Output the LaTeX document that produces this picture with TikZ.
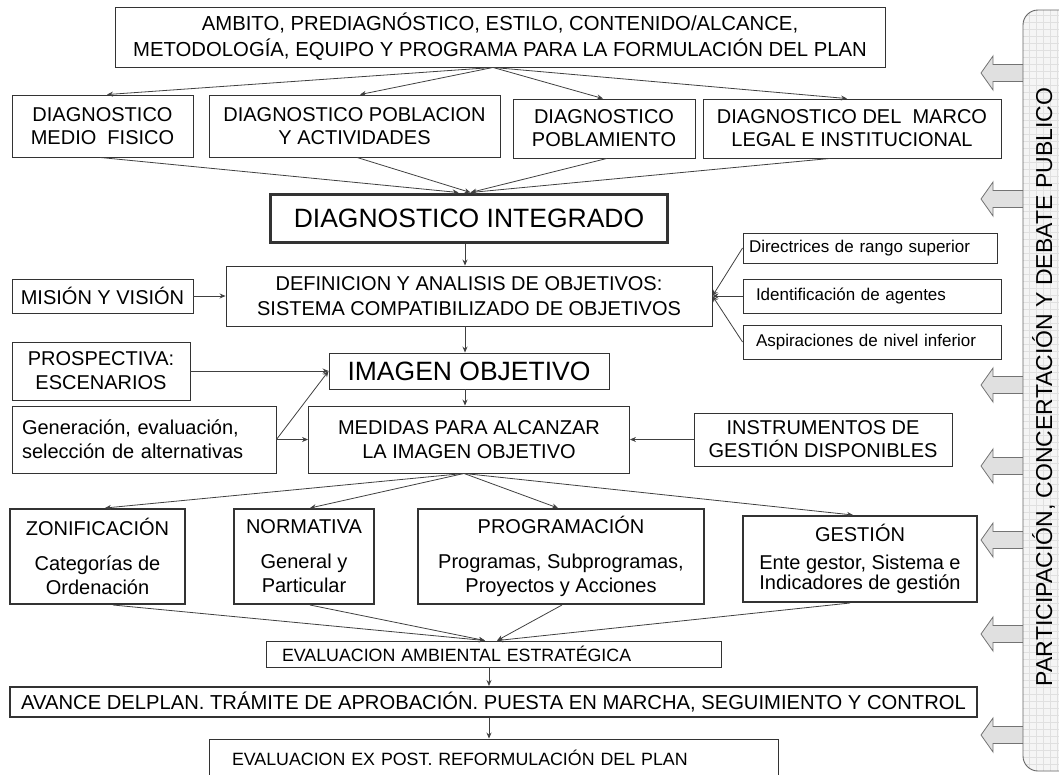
\documentclass[tikz,border=0pt]{standalone}
\usepackage{fontspec}
\setmainfont{Liberation Sans}
\usetikzlibrary{arrows.meta,calc}
\newcommand\fs[2]{\fontsize{#1}{#2}\selectfont}
\newcommand\parrowat[1]{\draw[parr] (1023,#1-8.5) -- (993,#1-8.5) -- (993,#1-17) -- (981,#1) -- (993,#1+17) -- (993,#1+8.5) -- (1023,#1+8.5);}
\begin{document}
\begin{tikzpicture}[x=1pt,y=-1pt,
 box/.style={draw=black!80, line width=0.9pt, fill=white, inner sep=0pt, align=center, text=black},
 heavybox/.style={box, line width=2pt},
 lbox/.style={box, align=left},
 arr/.style={draw=black!75, line width=0.8pt, -{Stealth[length=6pt,width=5pt]}},
 parr/.style={draw=black!55, fill=black!12, line width=0.8pt, line join=miter}]
\useasboundingbox (0,0) rectangle (1059,774);

% top
\node[box, minimum width=770, minimum height=60, font=\fs{20.3}{26}] (top) at (500,37)
 {AMBITO, PREDIAGNÓSTICO, ESTILO, CONTENIDO/ALCANCE,\\METODOLOGÍA, EQUIPO Y PROGRAMA PARA LA FORMULACIÓN DEL PLAN};
% row 2
\node[box, minimum width=181, minimum height=62, font=\fs{20}{23}] (b1) at (102.5,126) {DIAGNOSTICO\\MEDIO\ \ FISICO};
\node[box, minimum width=291, minimum height=62, font=\fs{20}{23}] (b2) at (354.5,126) {DIAGNOSTICO POBLACION\\Y ACTIVIDADES};
\node[box, minimum width=182, minimum height=59, font=\fs{20}{23}] (b3) at (604,128.5) {DIAGNOSTICO\\POBLAMIENTO};
\node[box, minimum width=298, minimum height=59, font=\fs{20}{23}] (b4) at (852,128.5) {DIAGNOSTICO DEL\ \ MARCO\\LEGAL E INSTITUCIONAL};
% integrated
\node[box, line width=3pt, minimum width=397, minimum height=48, font=\fs{26.5}{28}] (di) at (469,218) {DIAGNOSTICO INTEGRADO};
\node[box, minimum width=486, minimum height=60, font=\fs{20}{25}] (def) at (469,296) {DEFINICION Y ANALISIS DE OBJETIVOS:\\SISTEMA COMPATIBILIZADO DE OBJETIVOS};
\node[box, minimum width=181, minimum height=34, font=\fs{20}{23}] (mis) at (102.5,296) {MISIÓN Y VISIÓN};
\node[lbox, minimum height=30, inner xsep=6pt, text width=242pt, font=\fs{17}{19}] (dir) at (870,248) {Directrices de rango superior};
\node[lbox, minimum height=34, inner xsep=13pt, text width=232pt, font=\fs{17}{19}] (ide) at (872,296) {Identificación de agentes};
\node[lbox, minimum height=34, inner xsep=13pt, text width=232pt, font=\fs{17}{19}] (asp) at (872,342) {Aspiraciones de nivel inferior};
% imagen
\node[box, minimum width=178, minimum height=58, font=\fs{20}{24}] (pros) at (101,371) {PROSPECTIVA:\\ESCENARIOS};
\node[box, minimum width=280, minimum height=36, font=\fs{26.5}{28}] (img) at (469,371) {IMAGEN OBJETIVO};
\node[lbox, minimum height=67, inner xsep=10pt, text width=244pt, font=\fs{20}{24}] (gen) at (144,439.5) {Generación, evaluación,\\selección de alternativas};
\node[box, minimum width=321, minimum height=67, font=\fs{20}{24}] (med) at (469,439.5) {MEDIDAS PARA ALCANZAR\\LA IMAGEN OBJETIVO};
\node[box, minimum width=258, minimum height=53, font=\fs{20}{23}] (ins) at (823,439.5) {INSTRUMENTOS DE\\GESTIÓN DISPONIBLES};
% row 4
\node[heavybox, minimum width=175, minimum height=95, font=\fs{20}{24}] (zon) at (97.5,556.5) {ZONIFICACIÓN\\[11pt]Categorías de\\Ordenación};
\node[heavybox, minimum width=140, minimum height=95, font=\fs{20}{24}] (nor) at (304,556.5) {NORMATIVA\\[11pt]General y\\Particular};
\node[heavybox, minimum width=286, minimum height=95, font=\fs{20}{24}] (pro) at (561,556.5) {PROGRAMACIÓN\\[11pt]Programas, Subprogramas,\\Proyectos y Acciones};
\node[heavybox, minimum width=234, minimum height=86, font=\fs{20}{20.5}] (ges) at (860,559) {GESTIÓN\\[7.5pt]Ente gestor, Sistema e\\Indicadores de gestión};
% bottom
\node[lbox, minimum height=26, inner xsep=16pt, text width=423pt, font=\fs{17.8}{19}] (eae) at (493.5,654) {EVALUACION AMBIENTAL ESTRATÉGICA};
\node[heavybox, minimum width=967, minimum height=30, font=\fs{20.2}{22}] (ava) at (493.5,702) {AVANCE DELPLAN. TRÁMITE DE APROBACIÓN. PUESTA EN MARCHA, SEGUIMIENTO Y CONTROL};
\node[lbox, minimum height=38, inner xsep=23pt, text width=523pt, font=\fs{17.8}{19}] (pos) at (493.5,758) {EVALUACION EX POST. REFORMULACIÓN DEL PLAN};

% connectors
\draw[arr] ([xshift=-7pt]top.south) -- ([xshift=4.5pt]b1.north);
\draw[arr] ([xshift=-7pt]top.south) -- ([xshift=5.5pt]b2.north);
\draw[arr] ([xshift=-7pt]top.south) -- ([xshift=-1pt]b3.north);
\draw[arr] ([xshift=-7pt]top.south) -- ([xshift=-5pt]b4.north);
\draw[arr] ([xshift=-2.5pt]b1.south) -- ([xshift=-10.5pt]di.north);
\draw[arr] ([xshift=2.5pt]b2.south) -- ([xshift=1.5pt]di.north);
\draw[arr] ([xshift=3pt]b3.south) -- ([xshift=1.5pt]di.north);
\draw[arr] ([xshift=-22pt]b4.south) -- ([xshift=1.5pt]di.north);
\draw[arr] ([xshift=-4pt]di.south) -- ([xshift=-4pt]def.north);
\draw[arr] (mis.east) -- (def.west);
\draw[arr] (dir.west) -- (def.east);
\draw[arr] (ide.west) -- (def.east);
\draw[arr] (asp.west) -- (def.east);
\draw[arr] ([xshift=-4pt]def.south) -- ([xshift=-4pt]img.north);
\draw[arr] (pros.east) -- (img.west);
\draw[arr] (gen.east) -- (img.west);
\draw[arr] (gen.east) -- (med.west);
\draw[arr] ([xshift=-4pt]img.south) -- ([xshift=-4pt]med.north);
\draw[arr] (ins.west) -- (med.east);
\draw[arr] ([xshift=-5pt]med.south) -- ([xshift=7.5pt]zon.north);
\draw[arr] ([xshift=-5pt]med.south) -- ([xshift=6pt]nor.north);
\draw[arr] ([xshift=-5pt]med.south) -- ([xshift=-3pt]pro.north);
\draw[arr] ([xshift=-5pt]med.south) -- ([xshift=-7pt]ges.north);
\draw[arr] ([xshift=15.5pt]zon.south) -- ([xshift=-8.5pt]eae.north);
\draw[arr] ([xshift=6pt]nor.south) -- ([xshift=-8.5pt]eae.north);
\draw[arr] ([xshift=1pt]pro.south) -- ([xshift=3.5pt]eae.north);
\draw[arr] ([xshift=-10pt]ges.south) -- ([xshift=3.5pt]eae.north);
\draw[arr] ([xshift=-4.5pt]eae.south) -- ([xshift=-4.5pt]ava.north);
\draw[arr] ([xshift=-4.5pt]ava.south) -- ([xshift=-4.5pt]pos.north);

% participation bar
\foreach \c in {73,199,385,466,540,634,735} {\parrowat{\c}}
\begin{scope}
 \clip[rounded corners=15pt] (1023,10) rectangle (1090,771);
 \fill[black!4] (1023,10) rectangle (1090,771);
 \foreach \gx in {1029,1036,...,1060} \draw[black!12, line width=0.3pt] (\gx,10) -- (\gx,771);
 \foreach \gy in {15,22,...,771} \draw[black!12, line width=0.3pt] (1023,\gy) -- (1090,\gy);
\end{scope}
\draw[draw=black!60, line width=0.9pt, rounded corners=15pt] (1023,10) rectangle (1090,771);
\node[rotate=90, anchor=base, inner sep=0pt, font=\fs{23}{23}] (bar) at (1052,387) {PARTICIPACIÓN, CONCERTACIÓN Y DEBATE PUBLICO};
\end{tikzpicture}
\end{document}
